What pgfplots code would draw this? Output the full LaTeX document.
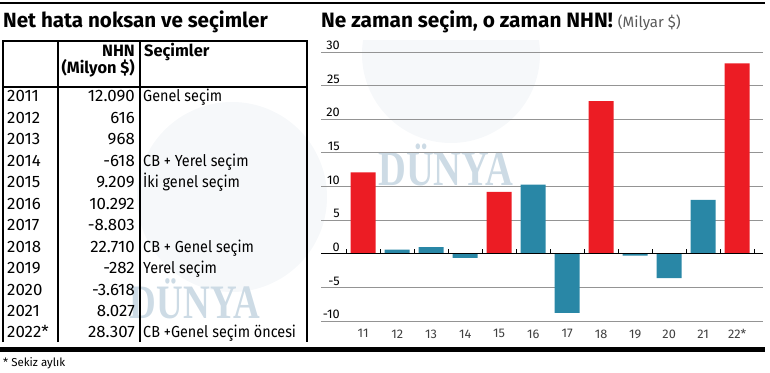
\documentclass[border=0pt]{standalone}
\usepackage{fontspec}
\setmainfont{Fira Sans}
\newfontfamily\tabfont{Fira Sans}[FakeStretch=0.9]
\newfontfamily\numfont{Fira Sans}[FakeStretch=1.02]
\newfontfamily\wmfont{Liberation Serif}[FakeStretch=0.77]
\usepackage{pgfplots}
\pgfplotsset{compat=1.18}
\definecolor{nred}{RGB}{236,28,36}
\definecolor{nblue}{RGB}{41,135,166}
\definecolor{wm}{RGB}{205,219,229}
\definecolor{globe}{RGB}{246,248,250}
\begin{document}
\begin{tikzpicture}[x=1pt,y=1pt]
\path[use as bounding box] (0,0) rectangle (770,372);
% faint globes (watermark)
\begin{scope}
\clip (0,30) rectangle (770,331);
\fill[globe] (451,318) circle (89);
\fill[globe] (232,175) circle (95);
\end{scope}
\node[text=wm, font=\wmfont\bfseries\fontsize{50}{50}\selectfont, inner sep=0] at (446,207) {DÜNYA};
\node[text=wm, font=\wmfont\bfseries\fontsize{48}{48}\selectfont, inner sep=0] at (195,73) {DÜNYA};
% rules
\draw[line width=1.2pt] (0,369) -- (765,369);
\draw[line width=5pt] (0,23) -- (765,23);
% titles
\node[anchor=base west, inner sep=0, font=\bfseries\fontsize{20.6}{20.6}\selectfont] at (3,344.5) {Net hata noksan ve seçimler};
\node[anchor=base west, inner sep=0, font=\bfseries\fontsize{20.8}{20.8}\selectfont] at (321,344.5) {Ne zaman seçim, o zaman NHN! {\mdseries\fontsize{15}{15}\selectfont\color{black!65}(Milyar \$)}};
\node[anchor=base west, inner sep=0, font=\fontsize{11.5}{11.5}\selectfont] at (3,6) {* Sekiz aylık};
% table
\draw[line width=1.1pt] (3,30) -- (3,331) -- (307,331) -- (307,30);
\draw[line width=1.1pt] (58,30) -- (58,331);
\draw[line width=1.1pt] (140,30) -- (140,331);
\draw[line width=1.1pt] (3,285) -- (307,285);
\node[anchor=base east, inner sep=0, font=\bfseries\fontsize{16.4}{16.4}\selectfont] at (135,315) {NHN};
\node[anchor=base east, inner sep=0, font=\bfseries\fontsize{16.4}{16.4}\selectfont] at (135,298.5) {(Milyon \$)};
\node[anchor=base west, inner sep=0, font=\bfseries\fontsize{16.4}{16.4}\selectfont] at (144,315) {Seçimler};
\foreach \i/\yr/\v/\t in {0/2011/12.090/Genel seçim, 1/2012/616/, 2/2013/968/, 3/2014/-618/CB + Yerel seçim, 4/2015/9.209/İki genel seçim, 5/2016/10.292/, 6/2017/-8.803/, 7/2018/22.710/CB + Genel seçim, 8/2019/-282/Yerel seçim, 9/2020/-3.618/, 10/2021/8.027/, 11/2022*/28.307/CB +Genel seçim öncesi}{
  \pgfmathsetmacro\yy{270-21.45*\i}
  \node[anchor=base west, inner sep=0, font=\numfont\fontsize{16.5}{16.5}\selectfont] at (7,\yy) {\yr};
  \node[anchor=base east, inner sep=0, font=\numfont\fontsize{16.5}{16.5}\selectfont] at (135,\yy) {\v};
  \node[anchor=base west, inner sep=0, font=\tabfont\fontsize{16}{16}\selectfont] at (143,\yy) {\t};
}
% chart
\begin{axis}[at={(321pt,51pt)}, anchor=south west, width=442pt, height=269pt, scale only axis,
  xmin=9.76, xmax=22.76, ymin=-10, ymax=30,
  axis line style={draw=none}, major tick length=0pt,
  ytick={-10,-5,0,5,10,15,20,25,30},
  yticklabels={-10,-5,0,5,10,15,20,25,30},
  ymajorgrids, grid style={line width=0.9pt, color=black!42},
  xtick={11,12,13,14,15,16,17,18,19,20,21,22},
  xticklabels={11,12,13,14,15,16,17,18,19,20,21,22*},
  yticklabel style={anchor=south east, inner sep=0pt, xshift=19pt, yshift=2pt, font=\numfont\fontsize{12.5}{12.5}\selectfont},
  xticklabel style={font=\numfont\fontsize{12.5}{12.5}\selectfont, text=black!75, yshift=-5pt},
]
\addplot[ybar, bar width=25pt, bar shift=0pt, fill=nred, draw=none] coordinates {(11,12.090) (15,9.209) (18,22.710) (22,28.307)};
\addplot[ybar, bar width=25pt, bar shift=0pt, fill=nblue, draw=none] coordinates {(12,0.616) (13,0.968) (14,-0.618) (16,10.292) (17,-8.803) (19,-0.282) (20,-3.618) (21,8.027)};
\draw[line width=1.3pt] (axis cs:9.76,0) -- (axis cs:22.76,0);
\pgfplotsinvokeforeach{10.5,11.5,...,22.5}{\draw[line width=0.9pt] (axis cs:#1,0) -- (axis cs:#1,0.65);}
\end{axis}
\end{tikzpicture}
\end{document}
